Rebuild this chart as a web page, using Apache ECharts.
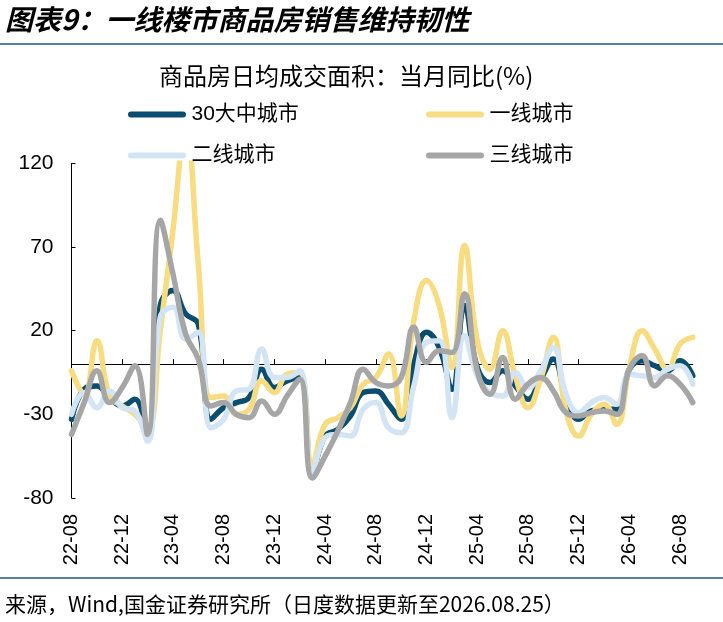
<!DOCTYPE html>
<html>
<head>
<meta charset="utf-8">
<script src="https://cdn.jsdelivr.net/npm/echarts@6/dist/echarts.min.js"></script>
<style>
html,body{margin:0;padding:0;background:#fff;}
#chart{width:723px;height:622px;}
</style>
</head>
<body>
<div id="chart"></div>
<script>
// Month tick labels (each monthly point is plotted at the start of the following month)
const months = ['22-08','22-09','22-10','22-11','22-12','23-01','23-02','23-03','23-04','23-05','23-06','23-07',
  '23-08','23-09','23-10','23-11','23-12','24-01','24-02','24-03','24-04','24-05','24-06','24-07',
  '24-08','24-09','24-10','24-11','24-12','25-01','25-02','25-03','25-04','25-05','25-06','25-07',
  '25-08','25-09','25-10','25-11','25-12','26-01','26-02','26-03','26-04','26-05','26-06','26-07',
  '26-08','26-09'];

const city30 = [-33,-15,-13,-20,-25,-21,-43,35,44,30,24,-33,-26,-23,-20,-3,-14,-10,-8,-64,
  -43,-39,-31,-17,-16,-24,-33,0,19,10,-15,35,-2,-11,-4,-13,-21,-9,3,-20,
  -33,-28,-27,-27,-3,2,-1,-4,2,-7];
const tier1 = [-4,-18,14,-19,-25,-30,-38,20,80,142,60,-20,-19,-30,-27,-10,-17,-6,-5,-60,
  -36,-32,-26,-12,-8,6,-31,26,50,35,-2,71,14,-3,20,-7,-26,-9,16,-28,
  -43,-30,-24,-36,-2,20,9,-3,12,16];
const tier2 = [-30,-17,-26,-16,-26,-28,-46,28,34,15,19,-38,-33,-16,-15,9,-8,-8,-4,-65,
  -44,-42,-43,-27,-23,-38,-41,-13,13,14,-32,17,-7,-17,-19,-5,-14,-4,10,-18,
  -29,-23,-20,-24,-6,-7,-8,-3,-1,-12];
const tier3 = [-42,-23,-4,-23,-14,-1,-42,86,54,18,3,-25,-23,-30,-32,-22,-30,-19,-9,-68,
  -55,-40,-23,-3,-11,-13,-8,22,1,8,7,42,-4,-18,4,-21,-12,-8,-16,-29,
  -31,-29,-28,-30,-3,5,-13,-7,-12,-23];

const seriesNames = ['30大中城市','一线城市','二线城市','三线城市'];
const seriesData = [city30, tier1, tier2, tier3];
const colors = ['#0B4D6E','#F7DC82','#D3E5F5','#A6A6A6'];

const yMin = -80, yMax = 120, yStep = 50;

const latin = '"Liberation Sans", Arial, "Noto Sans CJK SC"';
const cjk = '"Noto Sans CJK SC", "Liberation Sans"';
const capsule = 'path://M3,0 L55,0 A3,3 0 0 1 55,6 L3,6 A3,3 0 0 1 3,0 Z';

const legendPos = [[128,104],[426,104],[128,145],[426,145]];

const chart = echarts.init(document.getElementById('chart'), null, {renderer:'canvas'});
chart.setOption({
  animation: false,
  backgroundColor: '#fff',
  title: [
    {text:'图表9：一线楼市商品房销售维持韧性', left:5, top:5, padding:0,
     textStyle:{fontFamily:cjk, fontSize:28, fontWeight:'bold', fontStyle:'italic', color:'#000'}},
    {text:'商品房日均成交面积：当月同比(%)', left:159, top:64, padding:0,
     textStyle:{fontFamily:cjk, fontSize:24, fontWeight:'normal', color:'#000'}},
    {text:'来源，Wind,国金证券研究所（日度数据更新至2026.08.25）', left:5, top:594, padding:0,
     textStyle:{fontFamily:cjk, fontSize:21, fontWeight:'normal', color:'#000'}}
  ],
  graphic: [
    {type:'line', shape:{x1:0,y1:44,x2:723,y2:44}, style:{stroke:'#1B5A7A', lineWidth:1.5}},
    {type:'line', shape:{x1:0,y1:578,x2:723,y2:578}, style:{stroke:'#1B5A7A', lineWidth:1.5}}
  ],
  legend: seriesNames.map((n,i)=>({
    data:[n], left:legendPos[i][0], top:legendPos[i][1], padding:0,
    icon:capsule, itemWidth:59, itemHeight:6, itemGap:0,
    textStyle:{fontFamily:latin, fontSize:21, color:'#000'}
  })),
  grid: {left:71.5, right:30.2, top:163.3, bottom:124},
  xAxis: [
    {type:'category', data:months, boundaryGap:false, position:'bottom',
     axisLine:{show:true, onZero:true, lineStyle:{color:'#000', width:1}},
     axisTick:{show:true, inside:true, interval:3, length:5, lineStyle:{color:'#000'}},
     axisLabel:{show:false}, splitLine:{show:false}},
    {type:'category', data:months, boundaryGap:false, position:'bottom',
     axisLine:{show:false, onZero:false}, axisTick:{show:false},
     axisLabel:{show:true, interval:3, rotate:90, margin:16, fontFamily:latin, fontSize:20, color:'#000'},
     splitLine:{show:false}}
  ],
  yAxis: {type:'value', min:yMin, max:yMax, interval:yStep,
    axisLine:{show:true, lineStyle:{color:'#000', width:1}},
    axisTick:{show:true, inside:true, length:4, lineStyle:{color:'#000'}},
    axisLabel:{fontFamily:latin, fontSize:21, color:'#000', margin:18},
    splitLine:{show:false}},
  series: seriesNames.map((n,i)=>({
    name:n, type:'line', data:seriesData[i], xAxisIndex:0, yAxisIndex:0,
    smooth:0.45, showSymbol:false, symbol:'none', z:2+i,
    color:colors[i], lineStyle:{color:colors[i], width:5.5, cap:'round', join:'round'},
    clip:true
  }))
});
</script>
</body>
</html>
